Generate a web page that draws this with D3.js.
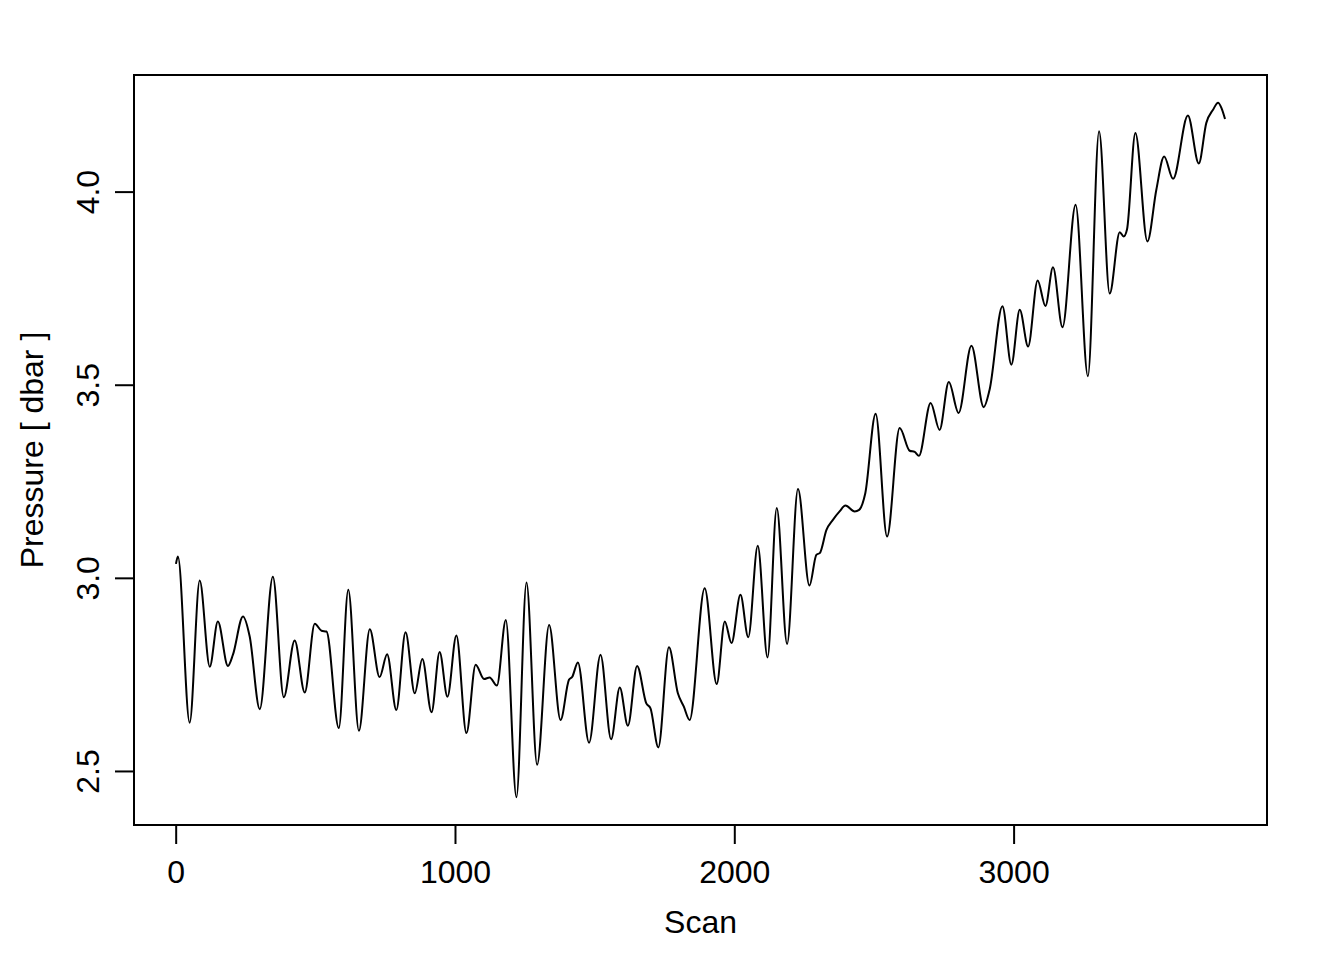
<!DOCTYPE html>
<html>
<head>
<meta charset="utf-8">
<script src="https://cdn.jsdelivr.net/npm/d3@7"></script>
<style>
  html, body { margin: 0; padding: 0; background: #fff; }
  svg { display: block; }
  text { font-family: "Liberation Sans", Arial, Helvetica, sans-serif; fill: #000; }
</style>
</head>
<body>
<svg id="chart" width="1344" height="960"></svg>
<script>
// Scan index of each key point (peaks, troughs, shoulders) of the pressure trace
const scan = [1, 8, 50, 86, 122, 151, 187, 205, 241, 265, 301, 348, 387, 426, 462, 498, 522, 540, 584, 618,
  656, 695, 730, 757, 790, 823, 856, 883, 916, 945, 973, 1005, 1041, 1074, 1104, 1124, 1150, 1182, 1220, 1256,
  1294, 1337, 1378, 1408, 1420, 1440, 1480, 1521, 1559, 1590, 1619, 1652, 1685, 1700, 1728, 1766, 1798, 1819, 1840, 1894,
  1937, 1966, 1990, 2022, 2050, 2084, 2119, 2152, 2189, 2228, 2269, 2294, 2306, 2330, 2353, 2377, 2398, 2431, 2447, 2469,
  2506, 2547, 2592, 2628, 2646, 2661, 2703, 2735, 2768, 2803, 2849, 2893, 2914, 2960, 2992, 3022, 3052, 3086, 3114, 3141,
  3175, 3222, 3266, 3306, 3344, 3380, 3394, 3406, 3436, 3479, 3511, 3539, 3571, 3624, 3663, 3690, 3714, 3732, 3744, 3757];
// Pressure [dbar] at those scans
const pressure = [3.036, 3.055, 2.625, 2.993, 2.770, 2.887, 2.772, 2.801, 2.900, 2.848, 2.660, 3.003, 2.691, 2.838, 2.703, 2.881, 2.863, 2.861, 2.611, 2.969,
  2.604, 2.867, 2.743, 2.802, 2.658, 2.859, 2.701, 2.790, 2.652, 2.808, 2.692, 2.851, 2.598, 2.775, 2.738, 2.742, 2.721, 2.891, 2.432, 2.988,
  2.516, 2.878, 2.632, 2.736, 2.744, 2.781, 2.573, 2.801, 2.582, 2.716, 2.617, 2.772, 2.675, 2.662, 2.561, 2.820, 2.701, 2.667, 2.632, 2.973,
  2.725, 2.887, 2.831, 2.956, 2.846, 3.083, 2.794, 3.181, 2.829, 3.230, 2.980, 3.060, 3.064, 3.124, 3.150, 3.172, 3.187, 3.172, 3.176, 3.219,
  3.425, 3.107, 3.388, 3.329, 3.326, 3.316, 3.453, 3.383, 3.507, 3.427, 3.601, 3.442, 3.487, 3.703, 3.552, 3.694, 3.599, 3.770, 3.704, 3.804,
  3.649, 3.966, 3.522, 4.156, 3.736, 3.895, 3.884, 3.902, 4.152, 3.871, 4.005, 4.091, 4.033, 4.197, 4.073, 4.178, 4.212, 4.230, 4.217, 4.188];

const xTicks = [0, 1000, 2000, 3000];
const yTicks = [2.5, 3.0, 3.5, 4.0];
const xLabel = "Scan";
const yLabel = "Pressure [ dbar ]";

const box = { left: 134, right: 1267, top: 75, bottom: 825 };
const svg = d3.select("#chart");

function padded(ext) {
  const d = (ext[1] - ext[0]) * 0.04;
  return [ext[0] - d, ext[1] + d];
}

const x = d3.scaleLinear().domain(padded(d3.extent(scan))).range([box.left, box.right]);
const y = d3.scaleLinear().domain(padded(d3.extent(pressure))).range([box.bottom, box.top]);

const pts = scan.map((s, i) => [s, pressure[i]]);

const line = d3.line()
  .x(d => x(d[0]))
  .y(d => y(d[1]))
  .curve(d3.curveMonotoneX);

svg.append("path")
  .datum(pts)
  .attr("d", line)
  .attr("fill", "none")
  .attr("stroke", "#000")
  .attr("stroke-width", 2)
  .attr("stroke-linejoin", "round");

// plot box
svg.append("rect")
  .attr("x", box.left).attr("y", box.top)
  .attr("width", box.right - box.left).attr("height", box.bottom - box.top)
  .attr("fill", "none").attr("stroke", "#000").attr("stroke-width", 2);

// bottom axis
const xAxis = d3.axisBottom(x).tickValues(xTicks).tickSize(19).tickPadding(16).tickFormat(d3.format("d"));
const gx = svg.append("g").attr("transform", `translate(0,${box.bottom})`).call(xAxis);
gx.select(".domain").remove();
gx.selectAll(".tick line").attr("stroke", "#000").attr("stroke-width", 2);
gx.selectAll(".tick text").attr("font-size", 32).attr("font-family", "Liberation Sans, Arial, sans-serif").attr("fill", "#000");

// left axis
const yAxis = d3.axisLeft(y).tickValues(yTicks).tickSize(19).tickFormat(d3.format(".1f"));
const gy = svg.append("g").attr("transform", `translate(${box.left},0)`).call(yAxis);
gy.select(".domain").remove();
gy.selectAll(".tick line").attr("stroke", "#000").attr("stroke-width", 2);
gy.selectAll(".tick text")
  .attr("font-size", 32)
  .attr("font-family", "Liberation Sans, Arial, sans-serif")
  .attr("fill", "#000")
  .attr("x", null).attr("dy", null)
  .attr("text-anchor", "middle")
  .attr("transform", `translate(${99 - box.left},0) rotate(-90)`);

// axis titles
svg.append("text")
  .attr("x", (box.left + box.right) / 2).attr("y", 933)
  .attr("text-anchor", "middle").attr("font-size", 32)
  .text(xLabel);

svg.append("text")
  .attr("transform", `translate(43,${(box.top + box.bottom) / 2}) rotate(-90)`)
  .attr("text-anchor", "middle").attr("font-size", 32)
  .text(yLabel);
</script>
</body>
</html>
